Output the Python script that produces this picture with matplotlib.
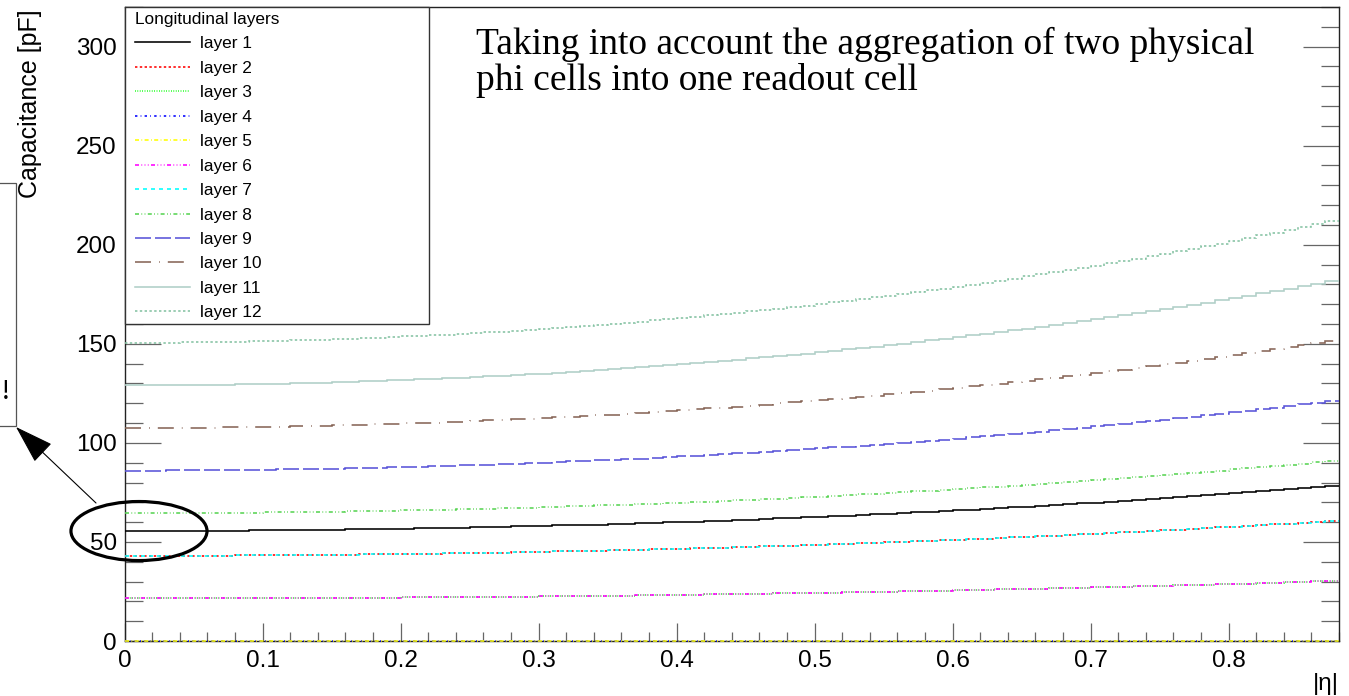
"""
capacitance_vs_eta.py

Readout-cell capacitance of the barrel calorimeter, one histogram per
longitudinal layer, versus |eta|. Two physical phi cells are merged into
one readout cell. ROOT-like look (inside ticks, step histograms).

Output: out.png
"""

import numpy as np
import matplotlib
matplotlib.use("Agg")
import matplotlib.pyplot as plt
from matplotlib.lines import Line2D
from matplotlib.patches import Ellipse, Rectangle, FancyArrowPatch
from matplotlib.ticker import MultipleLocator, FuncFormatter

plt.rcParams["font.family"] = ["Liberation Sans", "DejaVu Sans"]
plt.rcParams["lines.scale_dashes"] = False

# binning in |eta|
ETA_MIN, ETA_MAX, N_BINS = 0.0, 0.88, 88

# capacitance per bin [pF]
LAYER_1 = [
    55.5, 55.5, 55.5, 55.5, 55.6, 55.6, 55.6, 55.7, 55.7, 55.8,
    55.8, 55.9, 55.9, 56.0, 56.1, 56.2, 56.3, 56.4, 56.5, 56.6,
    56.7, 56.8, 56.9, 57.0, 57.2, 57.3, 57.5, 57.6, 57.8, 57.9,
    58.1, 58.3, 58.5, 58.6, 58.8, 59.0, 59.2, 59.4, 59.7, 59.9,
    60.1, 60.3, 60.6, 60.8, 61.1, 61.3, 61.6, 61.9, 62.2, 62.4,
    62.7, 63.0, 63.3, 63.6, 63.9, 64.3, 64.6, 64.9, 65.3, 65.6,
    66.0, 66.3, 66.7, 67.1, 67.5, 67.8, 68.2, 68.6, 69.0, 69.5,
    69.9, 70.3, 70.7, 71.2, 71.6, 72.1, 72.5, 73.0, 73.5, 74.0,
    74.5, 75.0, 75.5, 76.0, 76.5, 77.1, 77.6, 78.1,
]
LAYER_2 = [
    43.0, 43.0, 43.0, 43.0, 43.0, 43.1, 43.1, 43.1, 43.2, 43.2,
    43.2, 43.3, 43.3, 43.4, 43.5, 43.5, 43.6, 43.7, 43.7, 43.8,
    43.9, 44.0, 44.1, 44.2, 44.3, 44.4, 44.5, 44.6, 44.8, 44.9,
    45.0, 45.2, 45.3, 45.4, 45.6, 45.7, 45.9, 46.1, 46.2, 46.4,
    46.6, 46.8, 46.9, 47.1, 47.3, 47.5, 47.7, 47.9, 48.2, 48.4,
    48.6, 48.8, 49.1, 49.3, 49.5, 49.8, 50.0, 50.3, 50.6, 50.8,
    51.1, 51.4, 51.7, 52.0, 52.3, 52.6, 52.9, 53.2, 53.5, 53.8,
    54.1, 54.5, 54.8, 55.1, 55.5, 55.8, 56.2, 56.6, 56.9, 57.3,
    57.7, 58.1, 58.5, 58.9, 59.3, 59.7, 60.1, 60.5,
]
LAYER_3 = [
    21.5, 21.5, 21.5, 21.5, 21.5, 21.5, 21.5, 21.6, 21.6, 21.6,
    21.6, 21.6, 21.7, 21.7, 21.7, 21.8, 21.8, 21.8, 21.9, 21.9,
    22.0, 22.0, 22.0, 22.1, 22.1, 22.2, 22.3, 22.3, 22.4, 22.4,
    22.5, 22.6, 22.6, 22.7, 22.8, 22.9, 22.9, 23.0, 23.1, 23.2,
    23.3, 23.4, 23.5, 23.6, 23.7, 23.8, 23.9, 24.0, 24.1, 24.2,
    24.3, 24.4, 24.5, 24.6, 24.8, 24.9, 25.0, 25.2, 25.3, 25.4,
    25.6, 25.7, 25.8, 26.0, 26.1, 26.3, 26.4, 26.6, 26.7, 26.9,
    27.1, 27.2, 27.4, 27.6, 27.7, 27.9, 28.1, 28.3, 28.5, 28.7,
    28.8, 29.0, 29.2, 29.4, 29.6, 29.8, 30.1, 30.3,
]
LAYER_4 = [0.0] * N_BINS
LAYER_5 = [0.0] * N_BINS
LAYER_6 = LAYER_3   # sits exactly on layer 3
LAYER_7 = LAYER_2   # sits exactly on layer 2
LAYER_8 = [
    64.5, 64.5, 64.5, 64.5, 64.6, 64.6, 64.6, 64.7, 64.7, 64.8,
    64.9, 64.9, 65.0, 65.1, 65.2, 65.3, 65.4, 65.5, 65.6, 65.7,
    65.9, 66.0, 66.1, 66.3, 66.5, 66.6, 66.8, 67.0, 67.1, 67.3,
    67.5, 67.7, 67.9, 68.2, 68.4, 68.6, 68.8, 69.1, 69.3, 69.6,
    69.9, 70.1, 70.4, 70.7, 71.0, 71.3, 71.6, 71.9, 72.2, 72.6,
    72.9, 73.2, 73.6, 74.0, 74.3, 74.7, 75.1, 75.5, 75.9, 76.3,
    76.7, 77.1, 77.5, 77.9, 78.4, 78.8, 79.3, 79.8, 80.2, 80.7,
    81.2, 81.7, 82.2, 82.7, 83.2, 83.8, 84.3, 84.9, 85.4, 86.0,
    86.6, 87.1, 87.7, 88.3, 88.9, 89.5, 90.2, 90.8,
]
LAYER_9 = [
    86.0, 86.0, 86.0, 86.1, 86.1, 86.1, 86.2, 86.2, 86.3, 86.4,
    86.5, 86.6, 86.7, 86.8, 86.9, 87.0, 87.2, 87.3, 87.5, 87.6,
    87.8, 88.0, 88.2, 88.4, 88.6, 88.8, 89.0, 89.3, 89.5, 89.8,
    90.0, 90.3, 90.6, 90.9, 91.2, 91.5, 91.8, 92.1, 92.5, 92.8,
    93.2, 93.5, 93.9, 94.3, 94.7, 95.1, 95.5, 95.9, 96.3, 96.8,
    97.2, 97.7, 98.1, 98.6, 99.1, 99.6, 100.1, 100.6, 101.1, 101.7,
    102.2, 102.8, 103.4, 103.9, 104.5, 105.1, 105.7, 106.4, 107.0, 107.6,
    108.3, 108.9, 109.6, 110.3, 111.0, 111.7, 112.4, 113.1, 113.9, 114.6,
    115.4, 116.2, 117.0, 117.8, 118.6, 119.4, 120.2, 121.1,
]
LAYER_10 = [
    107.5, 107.5, 107.5, 107.6, 107.6, 107.7, 107.7, 107.8, 107.9, 108.0,
    108.1, 108.2, 108.3, 108.5, 108.6, 108.8, 109.0, 109.2, 109.3, 109.6,
    109.8, 110.0, 110.2, 110.5, 110.7, 111.0, 111.3, 111.6, 111.9, 112.2,
    112.5, 112.9, 113.2, 113.6, 114.0, 114.3, 114.7, 115.2, 115.6, 116.0,
    116.4, 116.9, 117.4, 117.8, 118.3, 118.8, 119.3, 119.9, 120.4, 120.9,
    121.5, 122.1, 122.7, 123.3, 123.9, 124.5, 125.1, 125.8, 126.4, 127.1,
    127.8, 128.5, 129.2, 129.9, 130.7, 131.4, 132.2, 132.9, 133.7, 134.5,
    135.3, 136.2, 137.0, 137.9, 138.7, 139.6, 140.5, 141.4, 142.4, 143.3,
    144.3, 145.2, 146.2, 147.2, 148.2, 149.2, 150.3, 151.3,
]
LAYER_11 = [
    129.0, 129.0, 129.0, 129.1, 129.1, 129.2, 129.3, 129.4, 129.5, 129.6,
    129.7, 129.9, 130.0, 130.2, 130.4, 130.6, 130.8, 131.0, 131.2, 131.5,
    131.7, 132.0, 132.3, 132.6, 132.9, 133.2, 133.6, 133.9, 134.3, 134.7,
    135.0, 135.5, 135.9, 136.3, 136.8, 137.2, 137.7, 138.2, 138.7, 139.2,
    139.7, 140.3, 140.8, 141.4, 142.0, 142.6, 143.2, 143.8, 144.5, 145.1,
    145.8, 146.5, 147.2, 147.9, 148.6, 149.4, 150.1, 150.9, 151.7, 152.5,
    153.3, 154.2, 155.0, 155.9, 156.8, 157.7, 158.6, 159.5, 160.5, 161.4,
    162.4, 163.4, 164.4, 165.4, 166.5, 167.6, 168.6, 169.7, 170.8, 172.0,
    173.1, 174.3, 175.4, 176.6, 177.9, 179.1, 180.3, 181.6,
]
LAYER_12 = [
    150.5, 150.5, 150.6, 150.6, 150.7, 150.7, 150.8, 150.9, 151.0, 151.2,
    151.3, 151.5, 151.7, 151.9, 152.1, 152.3, 152.6, 152.8, 153.1, 153.4,
    153.7, 154.0, 154.3, 154.7, 155.0, 155.4, 155.8, 156.2, 156.7, 157.1,
    157.6, 158.0, 158.5, 159.0, 159.5, 160.1, 160.6, 161.2, 161.8, 162.4,
    163.0, 163.6, 164.3, 165.0, 165.6, 166.4, 167.1, 167.8, 168.6, 169.3,
    170.1, 170.9, 171.7, 172.6, 173.4, 174.3, 175.2, 176.1, 177.0, 177.9,
    178.9, 179.9, 180.9, 181.9, 182.9, 184.0, 185.0, 186.1, 187.2, 188.3,
    189.5, 190.6, 191.8, 193.0, 194.2, 195.5, 196.7, 198.0, 199.3, 200.6,
    202.0, 203.3, 204.7, 206.1, 207.5, 208.9, 210.4, 211.9,
]

LAYERS = [LAYER_1, LAYER_2, LAYER_3, LAYER_4, LAYER_5, LAYER_6,
          LAYER_7, LAYER_8, LAYER_9, LAYER_10, LAYER_11, LAYER_12]
LAYER_LABELS = [f"layer {i}" for i in range(1, 13)]

# ROOT colours 1..9, 28, 29, 30
LAYER_COLORS = ["#000000", "#ff0000", "#00ff00", "#0000ff", "#ffff00", "#ff00ff",
                "#00ffff", "#59d454", "#5954d9", "#876657", "#b0cfc7", "#85c2a3"]
# ROOT line style index per layer
LAYER_STYLES = [1, 2, 3, 4, 5, 6, 7, 8, 9, 10, 1, 2]

ROOT_DASHES = {
    2: [12, 12],
    3: [4, 8],
    4: [12, 16, 4, 16],
    5: [20, 12, 4, 12],
    6: [20, 12, 4, 12, 4, 12, 4, 12],
    7: [20, 20],
    8: [20, 12, 4, 12, 4, 12],
    9: [80, 20],
    10: [80, 40, 4, 40],
}

Y_TICKS = [0, 50, 100, 150, 200, 250, 300]
X_TICKS = [0, 0.1, 0.2, 0.3, 0.4, 0.5, 0.6, 0.7, 0.8]

NOTE_LINES = ["Taking into account the aggregation of two physical",
              "phi cells into one readout cell"]

W, H = 1349, 696   # output size in pixels
LW = 1.15


def px(x, y):
    """pixel position (from top-left) -> figure fraction"""
    return x / W, 1 - y / H


def root_ls(style):
    if style == 1:
        return "-"
    # ROOT dash units are ~0.2 px in this render; convert to points
    return (0, [v * 0.2 * 0.72 for v in ROOT_DASHES[style]])


def draw_layers(ax):
    edges = np.linspace(ETA_MIN, ETA_MAX, N_BINS + 1)
    for vals, col, st in zip(LAYERS, LAYER_COLORS, LAYER_STYLES):
        ax.stairs(vals, edges, baseline=None, color=col, linestyle=root_ls(st),
                  linewidth=LW, clip_on=False, zorder=3)


def style_axes(ax):
    ax.set_xlim(ETA_MIN, ETA_MAX)
    ax.set_ylim(0, 320)
    ax.set_xticks(X_TICKS)
    ax.set_yticks(Y_TICKS)
    ax.xaxis.set_minor_locator(MultipleLocator(0.02))
    ax.yaxis.set_minor_locator(MultipleLocator(10))
    ax.xaxis.set_major_formatter(FuncFormatter(lambda v, _: f"{v:g}"))

    tick_kw = dict(direction="in", color="#666666", width=0.9)
    ax.tick_params(axis="y", which="major", length=26, left=True, right=True,
                   labelsize=17.5, pad=5.5, **tick_kw)
    ax.tick_params(axis="y", which="minor", length=13, left=True, right=True, **tick_kw)
    ax.tick_params(axis="x", which="major", length=13, top=False,
                   labelsize=17.5, pad=6.5, **tick_kw)
    ax.tick_params(axis="x", which="minor", length=6.5, top=False, **tick_kw)

    for side in ["left", "bottom", "top", "right"]:
        ax.spines[side].set_color("#222222")
        ax.spines[side].set_linewidth(1.0)


def add_legend(fig):
    # white box first, ROOT legend has a plain frame
    x0, y0 = px(124.5, 324)
    x1, y1 = px(429, 7)
    fig.add_artist(Rectangle((x0, y0), x1 - x0, y1 - y0, transform=fig.transFigure,
                             facecolor="white", edgecolor="#333333", lw=1.0, zorder=4))
    handles = [Line2D([], [], color=c, linestyle=root_ls(s), lw=LW)
               for c, s in zip(LAYER_COLORS, LAYER_STYLES)]
    leg = fig.legend(handles, LAYER_LABELS, loc="upper left",
                     bbox_to_anchor=px(135, 12), bbox_transform=fig.transFigure,
                     frameon=False, fontsize=12.4, title="Longitudinal layers",
                     title_fontsize=12.4, alignment="left", borderpad=0,
                     borderaxespad=0, labelspacing=0.545, handlelength=3.2,
                     handletextpad=0.55)
    leg.set_zorder(5)


def add_annotation(fig, ax):
    # ellipse around the first bins of layer 1
    ax.add_patch(Ellipse((0.0105, 55.5), 0.0986, 29.8, fill=False,
                         edgecolor="black", lw=2.3, clip_on=False, zorder=6))
    arrow = FancyArrowPatch(px(96, 503), px(16, 427), transform=fig.transFigure,
                            arrowstyle="-|>,head_length=25,head_width=8",
                            mutation_scale=1, color="black", lw=0.8,
                            shrinkA=0, shrinkB=0, zorder=6)
    fig.add_artist(arrow)
    # box cut by the left edge of the canvas
    bx0, by0 = px(-10, 426)
    bx1, by1 = px(16, 183)
    fig.add_artist(Rectangle((bx0, by0), bx1 - bx0, by1 - by0, transform=fig.transFigure,
                             facecolor="white", edgecolor="#555555", lw=0.9, zorder=4))
    fig.text(*px(6, 392), "!", family="Liberation Serif", fontsize=21,
             ha="center", va="center", zorder=6)


def make_figure():
    fig = plt.figure(figsize=(W / 100, H / 100), dpi=100)
    fig.patch.set_facecolor("white")
    left, bottom = px(124.5, 641)
    right, top = px(1338.9, 7)
    ax = fig.add_axes([left, bottom, right - left, top - bottom])

    draw_layers(ax)
    style_axes(ax)

    fig.text(*px(30, 9), "Capacitance [pF]", rotation=90, ha="center", va="top",
             fontsize=18)
    fig.text(*px(1338.5, 684), "|\u03b7|", ha="right", va="center", fontsize=17.5)

    for line, base in zip(NOTE_LINES, [53.5, 90.0]):
        fig.text(*px(476, base), line, family="Liberation Serif", fontsize=27,
                 ha="left", va="baseline")

    add_legend(fig)
    add_annotation(fig, ax)
    return fig


def main():
    fig = make_figure()
    fig.savefig("out.png", dpi=100, facecolor="white")
    plt.close(fig)


if __name__ == "__main__":
    main()
